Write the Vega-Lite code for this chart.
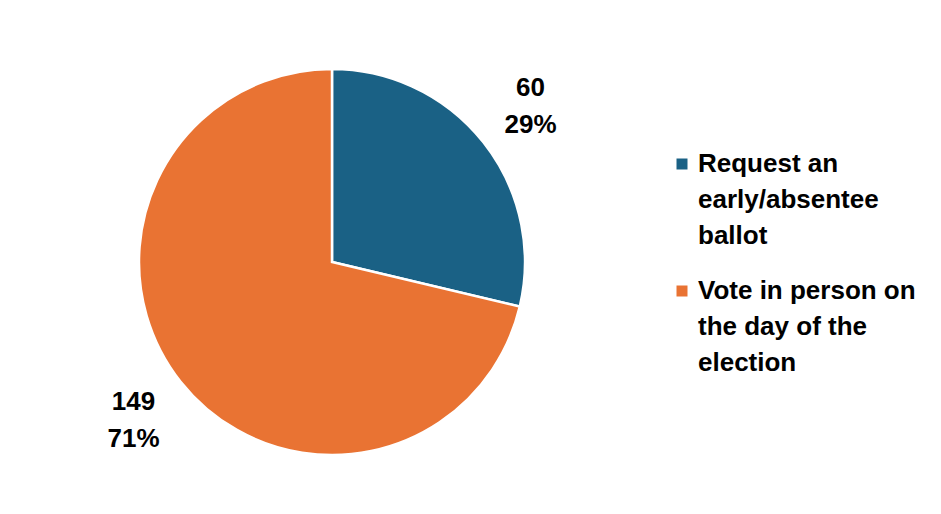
{
  "$schema": "https://vega.github.io/schema/vega-lite/v6.json",
  "autosize": "none",
  "width": 650,
  "height": 512,
  "padding": {"left": 7, "top": 6, "right": 284, "bottom": 0},
  "background": "white",
  "config": {
    "view": {"stroke": null},
    "font": "Liberation Sans",
    "style": {"guide-label": {"lineHeight": 36}}
  },
  "data": {
    "values": [
      {"category": "Request an early/absentee ballot", "order": 1, "count": 60, "label": ["60", "29%"]},
      {"category": "Vote in person on the day of the election", "order": 2, "count": 149, "label": ["149", "71%"]}
    ]
  },
  "encoding": {
    "theta": {"field": "count", "type": "quantitative", "stack": true},
    "order": {"field": "order", "type": "quantitative"}
  },
  "layer": [
    {
      "mark": {"type": "arc", "outerRadius": 193, "stroke": "white", "strokeWidth": 2.5},
      "encoding": {
        "color": {
          "field": "category",
          "type": "nominal",
          "sort": ["Request an early/absentee ballot", "Vote in person on the day of the election"],
          "scale": {"domain": ["Request an early/absentee ballot", "Vote in person on the day of the election"], "range": ["#1a6185", "#e97333"]},
          "legend": {
            "title": null,
            "orient": "none",
            "legendX": 662,
            "legendY": 145,
            "symbolType": "square",
            "symbolSize": 121,
            "symbolStrokeWidth": 0,
            "labelFontSize": 26,
            "labelFontWeight": "bold",
            "labelColor": "#000000",
            "labelLimit": 400,
            "labelOffset": 3,
            "rowPadding": 29,
            "labelExpr": "datum.label == 'Request an early/absentee ballot' ? ['Request an', 'early/absentee', 'ballot'] : ['Vote in person on', 'the day of the', 'election']"
          }
        }
      }
    },
    {
      "mark": {"type": "text", "radius": 253, "fontSize": 26, "fontWeight": "bold", "color": "#000000", "lineHeight": 37, "align": "center", "baseline": "middle", "dy": -17},
      "encoding": {
        "text": {"field": "label"}
      }
    }
  ]
}
